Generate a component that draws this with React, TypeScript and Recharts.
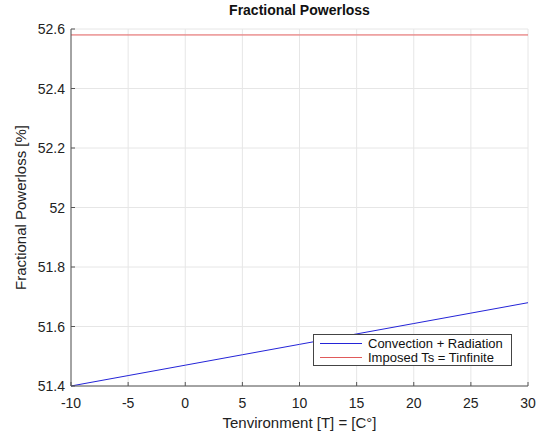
import React from 'react';
import { LineChart, Line, XAxis, YAxis, CartesianGrid } from 'recharts';

const temps = [-10, -5, 0, 5, 10, 15, 20, 25, 30];
const convection = [51.4, 51.435, 51.47, 51.505, 51.54, 51.575, 51.61, 51.645, 51.68];
const imposed = [52.58, 52.58, 52.58, 52.58, 52.58, 52.58, 52.58, 52.58, 52.58];
const xTicks = [-10, -5, 0, 5, 10, 15, 20, 25, 30];
const yTicks = [51.4, 51.6, 51.8, 52, 52.2, 52.4, 52.6];

const data = temps.map((t, i) => ({ t, conv: convection[i], imp: imposed[i] }));

const FONT = '"Liberation Sans", Arial, Helvetica, sans-serif';
const AXIS_Y = 386; // bottom of plot area (432 - 16 - 30)

const legendItems = [
    { label: 'Convection + Radiation', color: '#2424d8' },
    { label: 'Imposed Ts = Tinfinite', color: '#e05a5a' },
];

function LegendBox() {
    return (
        <div style={{ position: 'absolute', left: 313, top: 334, border: '1px solid #444', background: '#fff', padding: '1px 8px 1px 6px', fontSize: 13, color: '#111' }}>
            {legendItems.map(item => (
                <div key={item.label} style={{ display: 'flex', alignItems: 'center', height: 14 }}>
                    <div style={{ width: 42, height: 0, borderTop: `1px solid ${item.color}`, marginRight: 6 }} />
                    <span>{item.label}</span>
                </div>
            ))}
        </div>
    );
}

const XTick = (props: any) => (
    <text x={props.x} y={AXIS_Y + 22} textAnchor="middle" fill="#222" fontSize={14} fontFamily={FONT}>
        {props.payload.value}
    </text>
);

const YTick = (props: any) => (
    <text x={65} y={props.y + 5} textAnchor="end" fill="#222" fontSize={14} fontFamily={FONT}>
        {String(Number(Number(props.payload.value).toFixed(1)))}
    </text>
);

export default function App() {
    return (
        <div style={{ position: 'absolute', left: 0, top: 0, width: 537, height: 432, background: '#fff', fontFamily: FONT }}>
            <div style={{ position: 'absolute', left: 71, width: 457, top: 2, textAlign: 'center', fontWeight: 'bold', fontSize: 14, color: '#111' }}>
                Fractional Powerloss
            </div>
            <LineChart width={537} height={432} data={data} margin={{ top: 29, right: 9, bottom: 16, left: 31 }}>
                <CartesianGrid stroke="#e6e6e6" vertical horizontal />
                <XAxis
                    dataKey="t"
                    type="number"
                    domain={[-10, 30]}
                    ticks={xTicks}
                    height={30}
                    tickSize={-4}
                    stroke="#555"
                    tick={<XTick />}
                    label={{ value: 'Tenvironment [T] = [C°]', position: 'insideBottom', offset: -12, fill: '#222', fontSize: 15, fontFamily: FONT }}
                />
                <YAxis
                    type="number"
                    domain={[51.4, 52.6]}
                    ticks={yTicks}
                    width={40}
                    tickSize={-4}
                    stroke="#555"
                    tick={<YTick />}
                    label={{ value: 'Fractional Powerloss [%]', angle: -90, position: 'insideLeft', offset: -10, fill: '#222', fontSize: 15, fontFamily: FONT, style: { textAnchor: 'middle' } }}
                />
                <Line dataKey="conv" stroke="#2424d8" strokeWidth={1} dot={false} isAnimationActive={false} />
                <Line dataKey="imp" stroke="#e05a5a" strokeWidth={1} dot={false} isAnimationActive={false} />
            </LineChart>
            <LegendBox />
        </div>
    );
}
